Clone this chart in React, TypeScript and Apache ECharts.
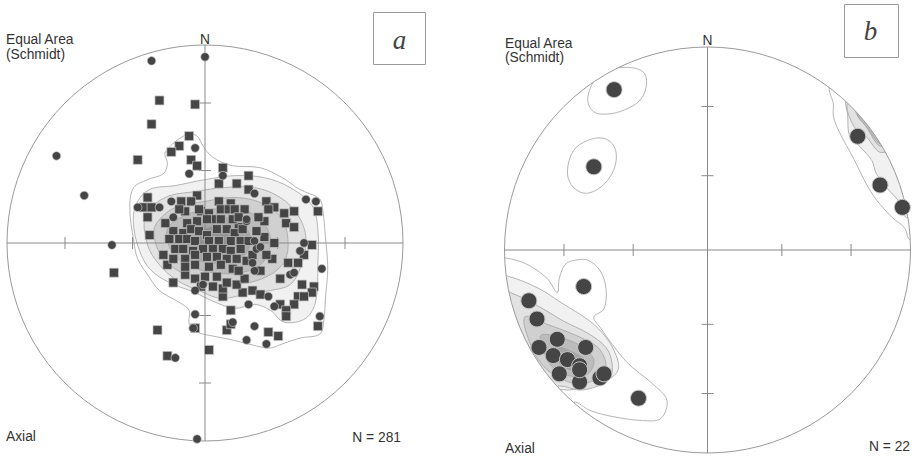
import { useEffect, useRef } from "react";
import * as echarts from "echarts";

// Coordinates are in projection units: percent of the primitive-circle radius (x east, y north).
const TICK_PLUNGES = [30, 60];

// ---- Plot a ----
const A_SQUARES: number[][] = [
  [-23, 72], [-5, 70], [-27, 60], [-8, 54], [-13, 49], [-17, 46], [-34, 42], [-7, 42], [-4, 39], [9, 38],
  [22, 34], [7, 30], [16, 30], [22, 27], [-4, 24], [31, 21], [35, 18], [45, 16], [57, 16], [-29, 23],
  [-31, 18], [-29, 13], [-27, 18], [-12, 21], [-7, 21], [7, 21], [13, 20], [8, 17], [12, 17], [15, 17],
  [20, 17], [-2, 16], [2, 15], [32, 17], [40, 15], [41, 10], [45, 8], [30, 11], [27, 13], [4, 12],
  [8, 12], [-4, 11], [-9, 10], [17, 8], [14, 12], [-28, 4], [-46, -15], [-19, -11], [-16, -20], [-10, -16],
  [-5, -18], [-24, -44], [-5, -43], [2, -54], [-19, -57], [13, -34], [11, -44], [13, -41], [9, -27], [19, -25],
  [24, -24], [28, -26], [9, -23], [11, -20], [16, -21], [20, -18], [28, -14], [38, -18], [35, 0], [54, -1],
  [50, -6], [34, -8], [31, -6], [42, -10], [47, -10], [49, -21], [55, -22], [54, -25], [47, -27], [50, -27],
  [38, -31], [45, -31], [41, -34], [41, -37], [32, -45], [37, -47], [57, -42],
  [-10, 16], [-3, 17], [1, 12], [17, 13], [-16, 6], [-11, 5], [-7, 7], [-3, 6], [1, 4], [6, 7],
  [11, 7], [15, 5], [19, 7], [-18, 2], [-13, 2], [-9, 2], [-5, 1], [2, 1], [7, 1], [13, 1],
  [18, 1], [22, 1], [-15, -3], [-11, -3], [-6, -4], [-1, -3], [4, -3], [9, -3], [13, -4], [18, -3],
  [-16, -8], [-10, -8], [-5, -6], [1, -7], [6, -7], [11, -8], [16, -8], [21, -9], [-10, -12], [-5, -11],
  [2, -12], [8, -11], [14, -13], [0, -17], [6, -17], [30, 3], [-13, 17], [-21, -6], [-20, 10], [24, -6],
  [26, 6], [-2, -22], [4, -22], [17, -14],
];
const A_CIRCLES: number[][] = [
  [-27, 92], [0, 94], [-75, 44], [-61, 24], [-5, 48], [-8, 35], [9, 34], [-17, 21], [-23, 18], [-34, 18],
  [51, 22], [56, 21], [25, 25], [21, 11], [-47, -1], [-5, -24], [-1, -21], [-5, -36], [-6, -43], [-15, -58],
  [-4, -99], [14, -40], [22, -31], [25, -42], [21, -49], [31, -51], [32, -27], [35, -32], [59, -13], [58, -37],
  [48, -4], [43, -16], [45, -15], [25, -14], [50, 0], [25, 1], [26, -3], [24, -10], [28, -2], [21, 12],
  [-16, 13],
];
const A_CONTOURS: number[][][] = [
  [[-20, 46], [-9, 55], [-4, 54], [-1, 49], [2, 45], [6, 42], [14, 39], [28, 38], [39, 33], [48, 27], [57, 23], [59, 20], [61, 1], [62, -13], [61, -26], [60, -39], [58, -46], [48, -48], [39, -51], [33, -53], [26, -52], [14, -49], [4, -47], [-4, -45], [-8, -41], [-8, -34], [-13, -30], [-23, -24], [-29, -16], [-34, -8], [-36, 1], [-38, 18], [-36, 28], [-29, 32], [-21, 35], [-19, 40]],
  [[-35, 19], [-28, 27], [-15, 29], [0, 32], [15, 34], [30, 33], [43, 28], [54, 19], [57, 7], [57, -11], [56, -29], [51, -38], [40, -40], [33, -34], [25, -31], [15, -33], [3, -29], [-5, -25], [-18, -20], [-28, -13], [-33, -4], [-36, 8]],
  [[-30, 14], [-20, 23], [-5, 26], [10, 28], [25, 28], [38, 23], [47, 14], [51, 2], [48, -13], [43, -21], [33, -24], [20, -26], [8, -28], [-3, -24], [-14, -19], [-23, -11], [-29, -1]],
  [[-25, 9], [-15, 18], [0, 21], [15, 23], [29, 20], [39, 12], [42, -1], [39, -11], [29, -18], [15, -21], [3, -21], [-10, -16], [-20, -9], [-25, 0]],
  [[-19, 7], [-10, 14], [3, 17], [17, 17], [28, 12], [33, 2], [29, -10], [18, -15], [4, -15], [-9, -11], [-17, -4]],
  [[-13, 4], [-5, 11], [5, 13], [17, 11], [23, 3], [20, -6], [10, -10], [-3, -9], [-11, -4]],
  [[-5, 3], [2, 8], [12, 8], [17, 2], [13, -5], [3, -6], [-4, -3]],
];
const A_CONTOUR_LEVELS = [1, 2, 3, 4, 5, 6, 7];

// ---- Plot b ----
const B_CIRCLES: number[][] = [
  [-46, 79], [-56, 41], [74, 56], [85, 32], [96, 21], [-61, -18], [-88, -25], [-84, -34], [-74, -44], [-83, -48],
  [-60, -48], [-76, -52], [-69, -54], [-63, -57], [-73, -61], [-63, -65], [-53, -63], [-34, -73], [-51, -61], [-63, -59],
];
const B_CONTOURS: number[][][] = [
  [[-59, 74], [-56, 83], [-50, 88], [-41, 90], [-32, 88], [-30, 82], [-33, 74], [-41, 69], [-49, 67], [-56, 68]],
  [[-69, 39], [-66, 49], [-59, 54], [-51, 55], [-46, 51], [-45, 44], [-48, 36], [-54, 30], [-61, 28], [-67, 32]],
  [[60, 80], [62, 72], [62, 66], [65, 58], [72, 45], [78, 33], [83, 25], [91, 16], [97, 11], [100, 5], [112, 10], [95, 69], [65, 94]],
  [[68, 74], [69, 67], [70, 56], [75, 51], [81, 44], [83, 38], [88, 31], [95, 23], [98, 16], [108, 20], [95, 69], [72, 85]],
  [[69, 73], [72, 61], [78, 56], [86, 48], [100, 58], [78, 80]],
  [[73, 69], [78, 61], [86, 51], [98, 62], [80, 75]],
  [[74, 67], [79, 60], [86, 52], [97, 58], [82, 72]],
  [[-99, -4], [-89, -7], [-79, -14], [-74, -21], [-73, -14], [-70, -7], [-65, -5], [-59, -5], [-53, -10], [-50, -19], [-51, -29], [-56, -33], [-53, -38], [-40, -55], [-27, -66], [-20, -74], [-23, -83], [-32, -84], [-47, -82], [-58, -79], [-66, -75], [-73, -84], [-92, -64], [-105, -34], [-105, -4]],
  [[-98, -13], [-83, -19], [-72, -26], [-58, -35], [-50, -43], [-45, -52], [-44, -59], [-49, -64], [-58, -67], [-68, -69], [-73, -69], [-80, -76], [-95, -45], [-105, -13]],
  [[-97, -21], [-81, -29], [-71, -35], [-59, -41], [-50, -48], [-47, -56], [-48, -63], [-54, -67], [-63, -69], [-73, -67], [-80, -70], [-95, -40], [-102, -21]],
  [[-90, -33], [-78, -37], [-65, -42], [-54, -48], [-50, -57], [-54, -63], [-63, -66], [-73, -63], [-81, -57], [-87, -47]],
  [[-82, -42], [-73, -43], [-63, -47], [-56, -54], [-59, -61], [-68, -62], [-77, -57], [-81, -49]],
  [[-75, -48], [-67, -50], [-60, -55], [-64, -59], [-72, -57]],
];
const B_CONTOUR_LEVELS = [1, 1, 1, 2, 3, 4, 5, 1, 2, 3, 4, 5, 6];

const LEVEL_FILLS = ["#ffffff", "#f1f1f1", "#e2e2e2", "#d0d0d0", "#bcbcbc", "#a6a6a6", "#929292"];

const FONT = "'Liberation Sans', Arial, sans-serif";

function contourSeries(g: number, polys: number[][][], levels: number[]) {
  return {
    type: "custom",
    xAxisIndex: g,
    yAxisIndex: g,
    z: 1,
    silent: true,
    clip: false,
    data: polys.map((_, i) => [0, 0, i]),
    renderItem: (params: any, api: any) => {
      const i = params.dataIndex;
      const pts = polys[i].map((p) => api.coord(p));
      return {
        type: "polygon",
        shape: { points: pts, smooth: 0.35 },
        style: { fill: LEVEL_FILLS[levels[i] - 1], stroke: "#a2a2a2", lineWidth: 0.8 },
      };
    },
  };
}

function frameSeries(g: number) {
  return {
    type: "custom",
    xAxisIndex: g,
    yAxisIndex: g,
    z: 2,
    silent: true,
    clip: false,
    data: [[0, 0]],
    renderItem: (_params: any, api: any) => {
      const c = api.coord([0, 0]);
      const R = api.coord([100, 0])[0] - c[0];
      const cx = c[0];
      const cy = c[1];
      const lineStyle = { stroke: "#8a8a8a", lineWidth: 1 };
      const children: any[] = [
        { type: "ring", shape: { cx, cy, r0: R, r: R * 1.25 }, style: { fill: "#ffffff" } },
        { type: "circle", shape: { cx, cy, r: R }, style: { fill: "none", stroke: "#9a9a9a", lineWidth: 1 } },
        { type: "line", shape: { x1: cx - R, y1: cy, x2: cx + R, y2: cy }, style: lineStyle },
        { type: "line", shape: { x1: cx, y1: cy - R, x2: cx, y2: cy + R }, style: lineStyle },
      ];
      const t = 6;
      TICK_PLUNGES.forEach((p) => {
        const d = R * Math.SQRT2 * Math.sin(((90 - p) / 2) * (Math.PI / 180));
        children.push(
          { type: "line", shape: { x1: cx - t, y1: cy - d, x2: cx + t, y2: cy - d }, style: lineStyle },
          { type: "line", shape: { x1: cx - t, y1: cy + d, x2: cx + t, y2: cy + d }, style: lineStyle },
          { type: "line", shape: { x1: cx - d, y1: cy - t, x2: cx - d, y2: cy + t }, style: lineStyle },
          { type: "line", shape: { x1: cx + d, y1: cy - t, x2: cx + d, y2: cy + t }, style: lineStyle }
        );
      });
      return { type: "group", children };
    },
  };
}

function markers(g: number, data: number[][], symbol: string, size: number) {
  return {
    type: "scatter",
    xAxisIndex: g,
    yAxisIndex: g,
    z: 3,
    silent: true,
    symbol,
    symbolSize: size,
    data,
    itemStyle: { color: "#454545", borderColor: "#c8c8c8", borderWidth: size > 10 ? 1 : 0.7, opacity: 1 },
  };
}

function label(text: string, x: number, y: number, align = "left", extra: any = {}) {
  return {
    type: "text",
    x,
    y,
    z: 10,
    silent: true,
    style: { text, fontSize: 13.8, fontFamily: FONT, fill: "#333", align, verticalAlign: "middle", ...extra },
  };
}

export default function App() {
  const ref = useRef<HTMLDivElement>(null);
  useEffect(() => {
    if (!ref.current) return;
    const chart = echarts.init(ref.current, undefined, { renderer: "svg" });
    const axis = (g: number) => ({ type: "value", gridIndex: g, min: -100, max: 100, show: false });
    chart.setOption({
      animation: false,
      backgroundColor: "#ffffff",
      grid: [
        { left: 7, top: 45, width: 396, height: 396 },
        { left: 504.5, top: 47, width: 406, height: 406 },
      ],
      xAxis: [axis(0), axis(1)],
      yAxis: [axis(0), axis(1)],
      series: [
        contourSeries(0, A_CONTOURS, A_CONTOUR_LEVELS),
        frameSeries(0),
        markers(0, A_SQUARES, "rect", 9),
        markers(0, A_CIRCLES, "circle", 8.5),
        contourSeries(1, B_CONTOURS, B_CONTOUR_LEVELS),
        frameSeries(1),
        markers(1, B_CIRCLES, "circle", 16),
      ],
      graphic: [
        label("Equal Area", 6, 39),
        label("(Schmidt)", 6, 54),
        label("N", 205, 39.5, "center"),
        label("Axial", 6, 436.5),
        label("N = 281", 401, 437, "right"),
        { type: "rect", z: 10, silent: true, shape: { x: 373.5, y: 12.5, width: 52, height: 52 }, style: { fill: "#fff", stroke: "#9a9a9a", lineWidth: 1 } },
        label("a", 399.5, 39.5, "center", { fontSize: 27, fontFamily: "'Liberation Serif', 'Times New Roman', serif", fontStyle: "italic", fill: "#444" }),
        label("Equal Area", 505, 43),
        label("(Schmidt)", 505, 57),
        label("N", 707.5, 40.5, "center"),
        label("Axial", 505, 448.5),
        label("N = 22", 910, 446.5, "right"),
        { type: "rect", z: 10, silent: true, shape: { x: 844.5, y: 4.5, width: 54, height: 53 }, style: { fill: "#fff", stroke: "#9a9a9a", lineWidth: 1 } },
        label("b", 870.5, 30.5, "center", { fontSize: 27, fontFamily: "'Liberation Serif', 'Times New Roman', serif", fontStyle: "italic", fill: "#444" }),
      ],
    });
    return () => chart.dispose();
  }, []);
  return <div ref={ref} style={{ position: "fixed", left: 0, top: 0, width: 920, height: 456 }} />;
}
